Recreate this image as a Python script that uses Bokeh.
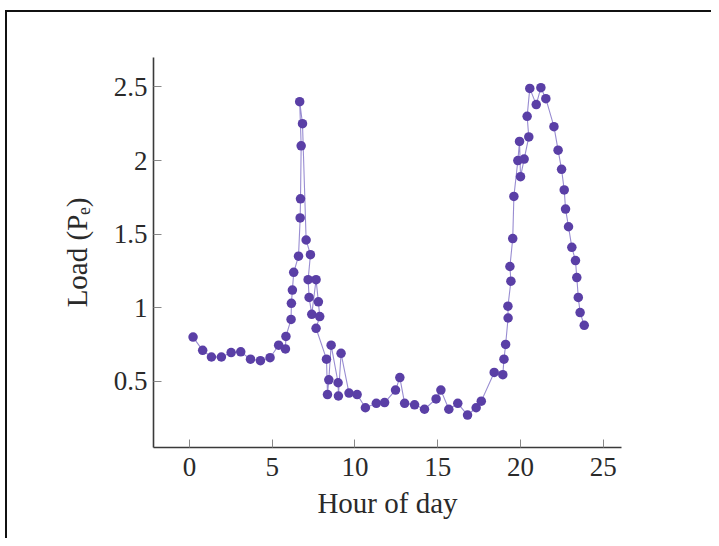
from bokeh.plotting import figure
from bokeh.models import Range1d, FixedTicker
from bokeh.embed import file_html
from bokeh.resources import INLINE

hours = [0.22, 0.80, 1.33, 1.93, 2.52, 3.10, 3.69, 4.29, 4.87, 5.39, 5.80, 5.83,
         6.14, 6.16, 6.22, 6.30, 6.59, 6.69, 6.71, 6.75, 6.66, 6.83, 7.05, 7.31,
         7.17, 7.23, 7.39, 7.65, 7.79, 7.87, 7.65, 8.28, 8.34, 8.42, 8.56, 8.98,
         9.00, 9.16, 9.64, 10.13, 10.63, 11.29, 11.79, 12.45, 12.71, 13.00, 13.60,
         14.20, 14.90, 15.19, 15.67, 16.21, 16.80, 17.32, 17.63, 18.41, 18.93,
         19.00, 19.10, 19.25, 19.24, 19.42, 19.36, 19.53, 19.60, 19.84, 19.94,
         20.00, 20.22, 20.50, 20.40, 20.56, 20.95, 21.23, 21.53, 22.02, 22.27,
         22.48, 22.64, 22.72, 22.90, 23.10, 23.32, 23.40, 23.49, 23.60, 23.85]
load = [0.80, 0.71, 0.665, 0.665, 0.695, 0.70, 0.65, 0.64, 0.66, 0.745, 0.72, 0.805,
        0.92, 1.03, 1.12, 1.24, 1.35, 1.61, 1.74, 2.10, 2.40, 2.25, 1.46, 1.36,
        1.19, 1.07, 0.955, 1.19, 1.04, 0.94, 0.86, 0.65, 0.41, 0.51, 0.745, 0.49,
        0.40, 0.69, 0.42, 0.41, 0.32, 0.35, 0.355, 0.44, 0.525, 0.35, 0.34,
        0.31, 0.38, 0.44, 0.31, 0.35, 0.27, 0.32, 0.365, 0.56, 0.545,
        0.65, 0.75, 0.93, 1.01, 1.18, 1.28, 1.47, 1.756, 2.00, 2.13,
        1.89, 2.01, 2.16, 2.30, 2.49, 2.38, 2.495, 2.42, 2.23, 2.07,
        1.94, 1.80, 1.67, 1.55, 1.41, 1.32, 1.205, 1.07, 0.967, 0.88]
x_ticks = [0, 5, 10, 15, 20, 25]
y_ticks = [0.5, 1, 1.5, 2, 2.5]
x_label = "Hour of day"
y_label = "Load (Pₑ)"

FONT = "Liberation Serif"
TXT = "#2a2a2a"

p = figure(width=711, height=538, output_backend="svg", toolbar_location=None,
           x_range=Range1d(-2.17, 26.1), y_range=Range1d(0.05, 2.70),
           min_border_left=153, min_border_right=90, min_border_top=57, min_border_bottom=91)
p.outline_line_color = None
p.xgrid.visible = False
p.ygrid.visible = False
p.background_fill_color = "white"
p.border_fill_color = None
p.styles = {
    "background": "linear-gradient(#111111, #111111) 5px 10px / 100% 2px no-repeat, "
                  "linear-gradient(#111111, #111111) 5px 10px / 2px 100% no-repeat, white",
}

p.line(hours, load, line_color="#8d7fcc", line_width=1.1, line_alpha=0.9)
p.scatter(hours, load, size=9.5, fill_color="#5a3fa6", line_color=None)

for ax in (p.xaxis[0], p.yaxis[0]):
    ax.axis_line_color = "#3a3a3a"
    ax.axis_line_width = 1.6
    ax.major_tick_in = 8
    ax.major_tick_out = 0
    ax.major_tick_line_color = "#888888"
    ax.major_tick_line_width = 1
    ax.minor_tick_line_color = None
    ax.major_label_text_font = FONT
    ax.major_label_text_font_size = "27px"
    ax.major_label_text_color = TXT
    ax.axis_label_text_font = FONT
    ax.axis_label_text_font_size = "29px"
    ax.axis_label_text_font_style = "normal"
    ax.axis_label_text_color = TXT

p.xaxis[0].ticker = FixedTicker(ticks=x_ticks)
p.yaxis[0].ticker = FixedTicker(ticks=y_ticks)
p.yaxis[0].major_label_overrides = {0.5: "0.5", 1: "1", 1.5: "1.5", 2: "2", 2.5: "2.5"}
p.xaxis[0].major_label_standoff = 10
p.yaxis[0].major_label_standoff = 6
p.xaxis[0].axis_label = x_label
p.yaxis[0].axis_label = y_label
p.xaxis[0].axis_label_standoff = 8
p.yaxis[0].axis_label_standoff = 18

open("out.html", "w").write(file_html(p, INLINE))
